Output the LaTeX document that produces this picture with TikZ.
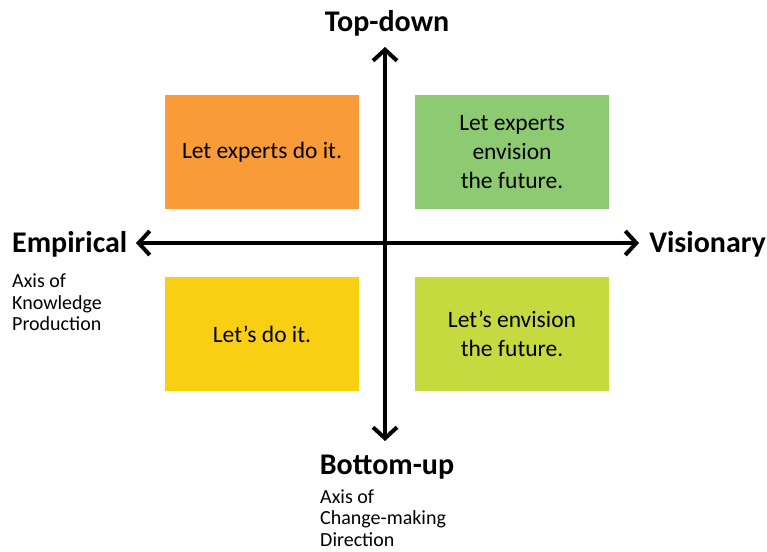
\documentclass[tikz,border=0pt]{standalone}
\usepackage{fontspec}
\setmainfont{Carlito}
\usetikzlibrary{arrows.meta}
\definecolor{qorange}{HTML}{F89B38}
\definecolor{qgreen}{HTML}{8DCA72}
\definecolor{qyellow}{HTML}{F8CF12}
\definecolor{qlime}{HTML}{C5DA3E}
\tikzset{
  quad/.style={minimum width=194pt,minimum height=114pt,inner sep=0pt,align=center,
    font=\fontsize{23.5}{29}\selectfont},
  axislabel/.style={font=\bfseries\fontsize{30}{32}\selectfont,inner sep=0pt},
  axisnote/.style={font=\fontsize{20}{21.5}\selectfont,align=left,inner sep=0pt},
  axisarrow/.style={line width=4pt,{Straight Barb[length=11pt,width=24pt,line width=4pt]}-{Straight Barb[length=11pt,width=24pt,line width=4pt]}}
}
\begin{document}
\begin{tikzpicture}[x=1pt,y=-1pt]
\useasboundingbox (0,0) rectangle (767,551);
\node[quad,fill=qorange] (tl) at (262,152) {Let experts do it.};
\node[quad,fill=qgreen] (tr) at (512,152) {Let experts\\envision\\the future.};
\node[quad,fill=qyellow] (bl) at (262,334) {Let's do it.};
\node[quad,fill=qlime] (br) at (512,334) {Let's envision\\the future.};
\coordinate (left) at (136,243);
\coordinate (right) at (639,243);
\coordinate (top) at (385,47);
\coordinate (bottom) at (385,441);
\draw[axisarrow] (left) -- (right);
\draw[axisarrow] (top) -- (bottom);
\node[axislabel] (td) at (387,23) {Top-down};
\node[axislabel] (bu) at (387,467) {Bottom-up};
\node[axislabel,anchor=west] (em) at (12,244) {Empirical};
\node[axislabel,anchor=east] (vi) at (766,244) {Visionary};
\node[axisnote,anchor=north west] (kn) at (12,274) {Axis of\\Knowledge\\Production};
\node[axisnote,anchor=north west] (cm) at (320,489.5) {Axis of\\Change-making\\Direction};
\end{tikzpicture}
\end{document}
